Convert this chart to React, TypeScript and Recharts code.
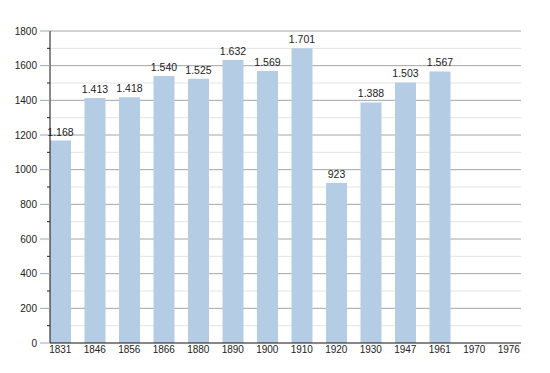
import React from 'react';
import { BarChart, Bar, XAxis, YAxis, ReferenceLine, LabelList } from 'recharts';

const years = ['1831', '1846', '1856', '1866', '1880', '1890', '1900', '1910', '1920', '1930', '1947', '1961', '1970', '1976'];
const population: (number | null)[] = [1168, 1413, 1418, 1540, 1525, 1632, 1569, 1701, 923, 1388, 1503, 1567, null, null];
const yTicks = [0, 100, 200, 300, 400, 500, 600, 700, 800, 900, 1000, 1100, 1200, 1300, 1400, 1500, 1600, 1700, 1800];
const majorTicks = [200, 400, 600, 800, 1000, 1200, 1400, 1600, 1800];
const minorTicks = [100, 300, 500, 700, 900, 1100, 1300, 1500, 1700];

const data = years.map((y, i) => ({ year: y, value: population[i] }));

const FONT = '"Liberation Sans", Arial, sans-serif';

const fmt = (v: any) => {
  if (v == null) return '';
  const n = Number(v);
  if (n >= 1000) {
    const s = String(n);
    return s.slice(0, s.length - 3) + '.' + s.slice(s.length - 3);
  }
  return String(n);
};

const YTick = (props: any) => {
  const { x, y, payload } = props;
  const v = payload.value;
  const major = v % 200 === 0;
  return (
    <g>
      {major ? (
        <line x1={x - 10} x2={x} y1={y} y2={y} stroke="#a4a4a4" strokeWidth={1} />
      ) : (
        <line x1={x - 3} x2={x} y1={y} y2={y} stroke="#222" strokeWidth={1} />
      )}
      {major && (
        <text x={x - 13} y={y} dy="0.35em" textAnchor="end" fontSize={10} fill="#222" fontFamily={FONT}>
          {v}
        </text>
      )}
    </g>
  );
};

export default function App() {
  return (
    <div style={{ position: 'absolute', left: 0, top: 0, width: 550, height: 373, background: '#fff' }}>
      <BarChart width={550} height={373} data={data} margin={{ top: 31, right: 29, bottom: 0, left: 0 }}>
        {minorTicks.map((t) => (
          <ReferenceLine key={'mi' + t} yAxisId="main" y={t} stroke="#e4e4e4" strokeWidth={1} zIndex={-50} />
        ))}
        {majorTicks.map((t) => (
          <ReferenceLine key={'ma' + t} yAxisId="main" y={t} stroke="#a4a4a4" strokeWidth={1} zIndex={-40} />
        ))}
        <XAxis
          dataKey="year"
          height={30}
          padding={{ left: -7, right: -5 }}
          tickLine={false}
          tickSize={3}
          tickMargin={0}
          axisLine={{ stroke: '#111' }}
          tick={{ fontSize: 10, fill: '#222', fontFamily: FONT }}
          interval={0}
        />
        <YAxis
          yAxisId="main"
          width={50}
          domain={[0, 1800]}
          ticks={yTicks}
          interval={0}
          tickLine={false}
          tickSize={0}
          tickMargin={0}
          axisLine={{ stroke: '#111' }}
          tick={<YTick />}
        />
        <Bar yAxisId="main" dataKey="value" fill="#b4cce4" barSize={21} isAnimationActive={false}>
          <LabelList dataKey="value" position="top" formatter={fmt} fontSize={10.5} fill="#222" fontFamily={FONT} />
        </Bar>
      </BarChart>
    </div>
  );
}
